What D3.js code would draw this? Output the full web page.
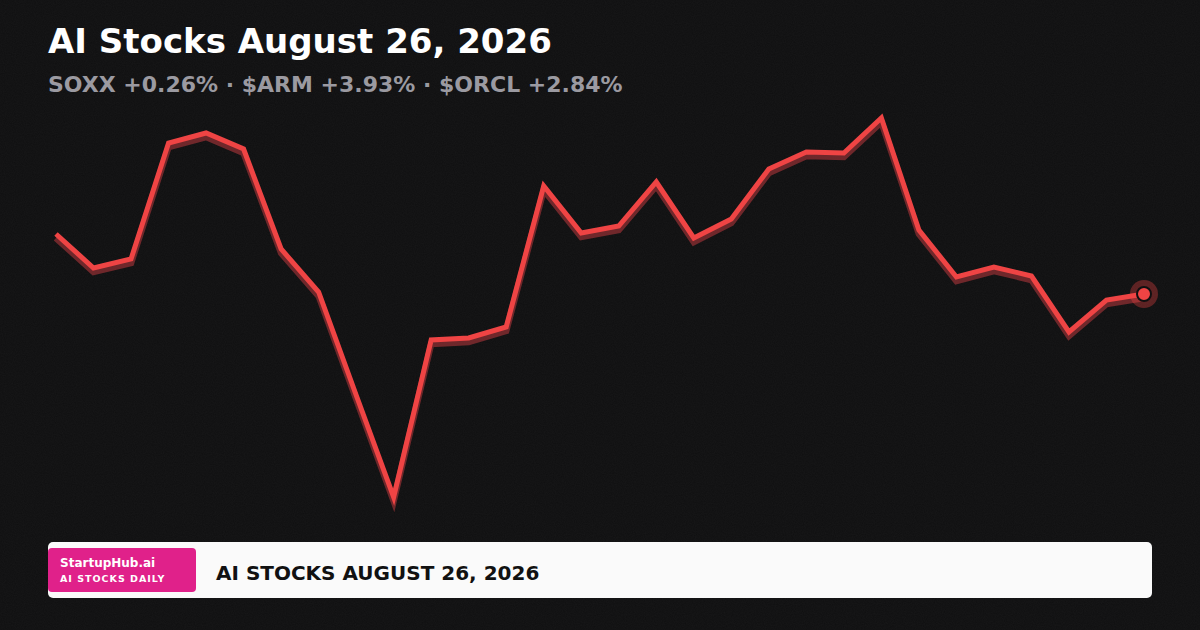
<!DOCTYPE html>
<html>
<head>
<meta charset="utf-8">
<script src="https://cdn.jsdelivr.net/npm/d3@7"></script>
<style>
  html, body { margin: 0; padding: 0; background: #101011; }
  svg { display: block; }
</style>
</head>
<body>
<div id="chart"></div>
<script>
// series (index level, 30 sessions)
const steps = d3.range(30);
const values = [126.3, 122.9, 123.8, 135.4, 136.4, 134.8, 124.8, 120.5, 110.2, 100.0,
                115.7, 115.9, 117.0, 131.1, 126.4, 127.1, 131.5, 125.9, 127.8, 132.8,
                134.5, 134.4, 137.9, 126.7, 122.0, 123.0, 122.1, 116.5, 119.7, 120.3];
const title = "AI Stocks August 26, 2026";
const subtitle = "SOXX +0.26% · $ARM +3.93% · $ORCL +2.84%";
const badgeLines = ["StartupHub.ai", "AI STOCKS DAILY"];
const footerTitle = "AI STOCKS AUGUST 26, 2026";

var width = 1200, height = 630;
var font = "'DejaVu Sans', sans-serif";

var svg = d3.select("#chart")
    .append("svg")
    .attr("width", width)
    .attr("height", height)
    .attr("viewBox", `0 0 ${width} ${height}`);

// grainy dark background
var defs = svg.append("defs");
var grain = defs.append("filter").attr("id", "grain").attr("x", 0).attr("y", 0).attr("width", "100%").attr("height", "100%");
grain.append("feTurbulence").attr("type", "fractalNoise").attr("baseFrequency", 0.9).attr("numOctaves", 2).attr("seed", 3).attr("result", "n");
grain.append("feColorMatrix").attr("in", "n").attr("type", "matrix")
    .attr("values", "0 0 0 0 1  0 0 0 0 1  0 0 0 0 1  0 0 0 0.035 0");
svg.append("rect").attr("width", width).attr("height", height).attr("fill", "#0f0f10");
svg.append("rect").attr("width", width).attr("height", height).attr("filter", "url(#grain)");

// headings
svg.append("text")
    .attr("x", 48).attr("y", 53)
    .attr("font-family", font).attr("font-weight", "bold").attr("font-size", 34)
    .attr("fill", "#ffffff")
    .text(title);
svg.append("text")
    .attr("x", 48).attr("y", 92)
    .attr("font-family", font).attr("font-weight", "bold").attr("font-size", 22)
    .attr("fill", "#9b9aa1")
    .text(subtitle);

// scales
var x = d3.scaleLinear()
    .domain(d3.extent(steps))
    .range([56, 1144]);
var y = d3.scaleLinear()
    .domain(d3.extent(values))
    .range([497, 118]);

var line = d3.line()
    .x(function (d, i) { return x(steps[i]); })
    .y(function (d) { return y(d); });

// shadow line below, then main line
svg.append("path")
    .datum(values)
    .attr("d", line)
    .attr("transform", "translate(0,4)")
    .attr("fill", "none")
    .attr("stroke", "#7a2a2d")
    .attr("stroke-width", 6.5)
    .attr("stroke-linejoin", "miter")
    .attr("opacity", 0.9);
svg.append("path")
    .datum(values)
    .attr("d", line)
    .attr("fill", "none")
    .attr("stroke", "#ef4444")
    .attr("stroke-width", 5)
    .attr("stroke-linejoin", "miter");

// end marker
var last = values.length - 1;
svg.append("circle")
    .attr("cx", x(steps[last])).attr("cy", y(values[last]))
    .attr("r", 14)
    .attr("fill", "#ef4444").attr("opacity", 0.34);
svg.append("circle")
    .attr("cx", x(steps[last])).attr("cy", y(values[last]))
    .attr("r", 7)
    .attr("fill", "#ef4444")
    .attr("stroke", "#101011").attr("stroke-width", 2);

// footer bar
svg.append("rect")
    .attr("x", 48).attr("y", 542).attr("width", 1104).attr("height", 56)
    .attr("rx", 5).attr("fill", "#fafafa");
svg.append("rect")
    .attr("x", 48).attr("y", 548).attr("width", 148).attr("height", 44)
    .attr("rx", 4).attr("fill", "#e0218a");
svg.append("text")
    .attr("x", 60).attr("y", 567)
    .attr("font-family", font).attr("font-weight", "bold").attr("font-size", 12)
    .attr("fill", "#ffffff")
    .text(badgeLines[0]);
svg.append("text")
    .attr("x", 60).attr("y", 582)
    .attr("font-family", font).attr("font-weight", "bold").attr("font-size", 9.5)
    .attr("letter-spacing", 1)
    .attr("fill", "#ffffff")
    .text(badgeLines[1]);
svg.append("text")
    .attr("x", 216).attr("y", 580)
    .attr("font-family", font).attr("font-weight", "bold").attr("font-size", 20)
    .attr("fill", "#111111")
    .text(footerTitle);
</script>
</body>
</html>
